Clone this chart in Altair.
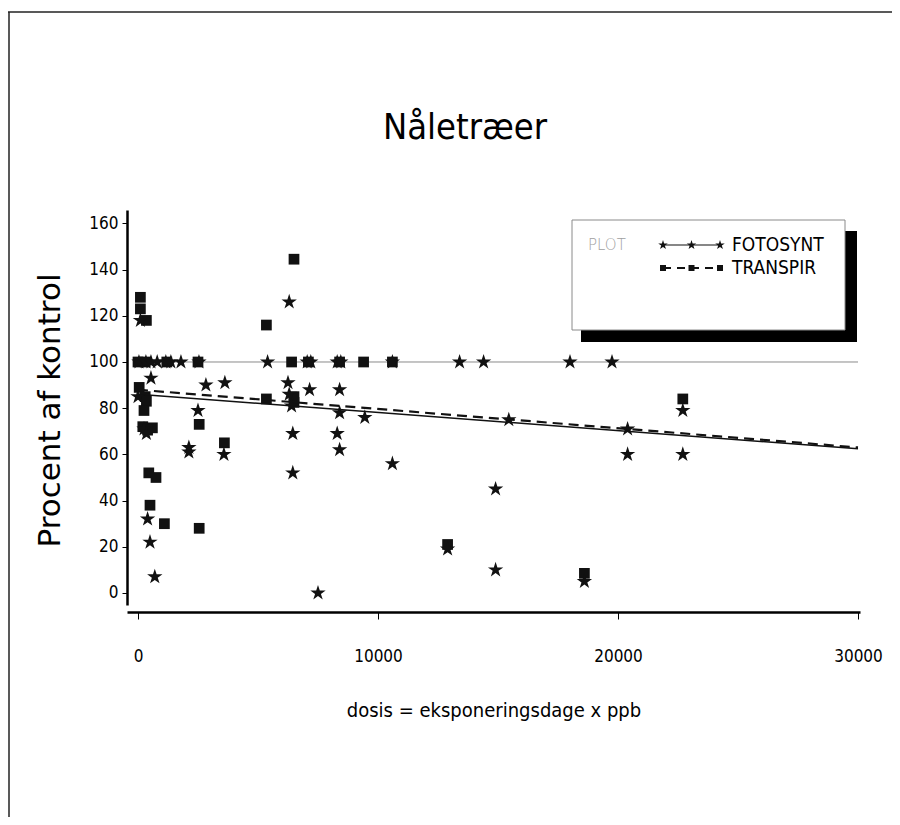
import altair as alt
import pandas as pd

# ---------------- data ----------------
foto_dose = [40, 330, 540, 800, 1160, 1370, 1790, 2540, 5400, 7050, 7200, 8300, 8450,
             10600, 13400, 14400, 18000, 19750,
             100, 0, 540, 250, 350, 2500, 2830, 3620, 2120, 2120, 3580, 400, 500, 700,
             7500, 6300, 6250, 6300, 6400, 6450, 6450, 7150, 8400, 8400, 8300, 8400,
             9450, 10600, 14900, 12900, 14900, 15450, 20400, 20400, 22700, 22700, 18600]
foto_val = [100, 100, 100, 100, 100, 100, 100, 100, 100, 100, 100, 100, 100,
            100, 100, 100, 100, 100,
            118, 85, 93, 71, 69, 79, 90, 91, 63, 61, 60, 32, 22, 7,
            0, 126, 91, 86, 81, 69, 52, 88, 88, 78, 69, 62,
            76, 56, 45, 19, 10, 75, 71, 60, 79, 60, 5]

trans_dose = [100, 100, 350,
              0, 300, 1200, 2500, 6400, 7100, 8400, 9400, 10600,
              50, 300, 350, 250, 200, 600, 400, 450, 750, 500, 1100, 2550, 2550,
              3600, 5350, 5350, 6500, 6500, 6500, 12900, 18600, 22700]
trans_val = [128, 123, 118,
             100, 100, 100, 100, 100, 100, 100, 100, 100,
             89, 85, 83, 79, 72, 71.5, 70.5, 52, 50, 38, 30, 28, 73,
             65, 116, 84, 144.5, 85, 82.5, 21, 8.5, 84]

trend_dose = [0, 30000]
foto_trend = [86, 62.4]
trans_trend = [88, 63]
ref_val = [100, 100]

x_ticks = [0, 10000, 20000, 30000]
y_ticks = [0, 20, 40, 60, 80, 100, 120, 140, 160]

title_text = "Nåletræer"
x_title = "dosis = eksponeringsdage x ppb"
y_title = "Procent af kontrol"
legend_names = ["FOTOSYNT", "TRANSPIR"]
legend_header = "PLOT"

# ---------------- styling ----------------
NARROW = "DejaVu Sans Condensed, Liberation Sans Narrow, sans-serif"
WIDE = "DejaVu Sans, sans-serif"
STAR = ("M0,-1L0.2245,-0.309L0.951,-0.309L0.363,0.118L0.588,0.809L0,0.382"
        "L-0.588,0.809L-0.363,0.118L-0.951,-0.309L-0.2245,-0.309Z")
INK = "#111111"

W, H = 733, 395

df_foto = pd.DataFrame({"dose": foto_dose, "val": foto_val})
df_trans = pd.DataFrame({"dose": trans_dose, "val": trans_val})
df_ft = pd.DataFrame({"dose": trend_dose, "val": foto_trend})
df_tt = pd.DataFrame({"dose": trend_dose, "val": trans_trend})
df_ref = pd.DataFrame({"dose": trend_dose, "val": ref_val})
one = pd.DataFrame({"k": [0]})

xscale = alt.Scale(domain=[-458, 30083], nice=False, zero=False)
yscale = alt.Scale(domain=[-5.2, 165.8], nice=False, zero=False)

xaxis = alt.Axis(values=x_ticks, format="d", offset=7, tickSize=7, tickWidth=1,
                 tickColor="black", domainColor="black", domainWidth=2.5,
                 labelFont=NARROW, labelFontSize=17, labelColor="black",
                 labelPadding=29, grid=False, title=x_title,
                 titleFont=NARROW, titleFontSize=20, titleFontWeight="normal",
                 titleColor="black", titleY=98, titleBaseline="middle")
yaxis = alt.Axis(values=y_ticks, tickSize=5, tickWidth=1, tickColor="black",
                 domainColor="black", domainWidth=2.5,
                 labelFont=NARROW, labelFontSize=17, labelColor="black",
                 labelPadding=4, grid=False, title=y_title,
                 titleFont=WIDE, titleFontSize=31, titleFontWeight="normal",
                 titleColor="black", titleX=-77, titleY=200, titleAngle=270,
                 titleAlign="center", titleBaseline="middle")

X = alt.X("dose:Q", scale=xscale, axis=xaxis)
Y = alt.Y("val:Q", scale=yscale, axis=yaxis)

ref = alt.Chart(df_ref).mark_line(color="#8a8a8a", strokeWidth=1).encode(x=X, y=Y)
ft = alt.Chart(df_ft).mark_line(color=INK, strokeWidth=1.5).encode(x=X, y=Y)
tt = alt.Chart(df_tt).mark_line(color=INK, strokeWidth=2.2, strokeDash=[10, 6]).encode(x=X, y=Y)
sq = alt.Chart(df_trans).mark_point(shape="square", filled=True, size=115,
                                     color=INK, opacity=1).encode(x=X, y=Y)
st = alt.Chart(df_foto).mark_point(shape=STAR, filled=True, size=260,
                                    color=INK, opacity=1).encode(x=X, y=Y)

# ---------------- decorations: frame, title, legend ----------------
frame_top = alt.Chart(one).mark_rule(color="#222", strokeWidth=1.5).encode(
    x=alt.value(-119), x2=alt.value(765), y=alt.value(-198))
frame_left = alt.Chart(one).mark_rule(color="#222", strokeWidth=1.5).encode(
    x=alt.value(-118), y=alt.value(-198), y2=alt.value(607))

title = alt.Chart(one).mark_text(font=NARROW, fontSize=36, color="black",
                                 align="center", baseline="middle").encode(
    x=alt.value(338), y=alt.value(-82), text=alt.value(title_text))

shadow = alt.Chart(one).mark_rect(color="black").encode(
    x=alt.value(454), x2=alt.value(730), y=alt.value(21), y2=alt.value(132))
box = alt.Chart(one).mark_rect(fill="white", stroke="#8a8a8a", strokeWidth=1).encode(
    x=alt.value(445), x2=alt.value(718), y=alt.value(10), y2=alt.value(120))
header = alt.Chart(one).mark_text(font=WIDE, fontSize=15, color="#a0a0a0",
                                  fontWeight=300, align="left", baseline="middle").encode(
    x=alt.value(461), y=alt.value(35), text=alt.value(legend_header))

leg_layers = []
row_y = [35, 58]
for i, name in enumerate(legend_names):
    yy = row_y[i]
    if i == 0:
        leg_layers.append(alt.Chart(one).mark_rule(color=INK, strokeWidth=1.2).encode(
            x=alt.value(536), x2=alt.value(593), y=alt.value(yy)))
    else:
        leg_layers.append(alt.Chart(one).mark_rule(color=INK, strokeWidth=2.2,
                                                   strokeDash=[8, 6]).encode(
            x=alt.value(536), x2=alt.value(593), y=alt.value(yy)))
    for px in (536, 564.5, 593):
        if i == 0:
            leg_layers.append(alt.Chart(one).mark_point(shape=STAR, filled=True, size=100,
                                                        color=INK, opacity=1).encode(
                x=alt.value(px), y=alt.value(yy)))
        else:
            leg_layers.append(alt.Chart(one).mark_point(shape="square", filled=True, size=36,
                                                        color=INK, opacity=1).encode(
                x=alt.value(px), y=alt.value(yy)))
    leg_layers.append(alt.Chart(one).mark_text(font=NARROW, fontSize=19, color="black",
                                               align="left", baseline="middle").encode(
        x=alt.value(605), y=alt.value(yy), text=alt.value(name)))

chart = alt.layer(
    ref, ft, tt, sq, st,
    frame_top, frame_left, title, shadow, box, header, *leg_layers
).properties(
    width=W, height=H,
    autosize=alt.AutoSizeParams(type="none"),
    padding={"left": 119, "top": 202, "right": 32, "bottom": 212},
    background="white",
).configure_view(stroke=None)

chart.save("out.html", embed_options={"renderer": "svg", "actions": False})
